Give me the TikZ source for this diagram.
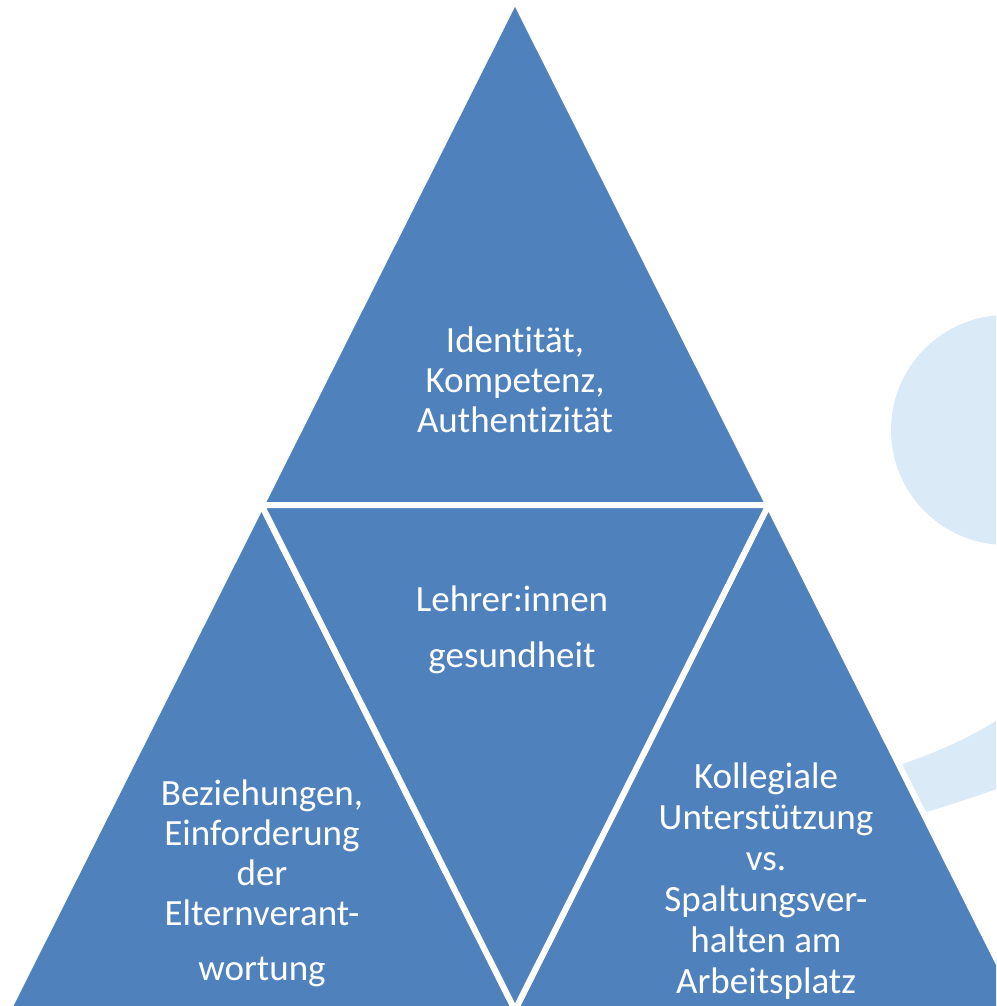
\documentclass[tikz,border=0pt]{standalone}
\usepackage{fontspec}
\setmainfont{Carlito}[Ligatures={NoCommon}]
\definecolor{triblue}{RGB}{79,129,189}
\definecolor{paleblue}{RGB}{218,234,247}
\begin{document}
\begin{tikzpicture}[x=1pt,y=-1pt,
  tri/.style={fill=triblue,draw=white,line width=6pt,line join=miter},
  lbl/.style={text=white,align=center,font=\fontsize{37}{40}\selectfont,inner sep=0pt}]
\useasboundingbox (0,0) rectangle (996,1006);
\coordinate (P) at (515,0);
\coordinate (L) at (8,1010);
\coordinate (R) at (1022,1010);
\coordinate (ML) at (261.5,505);
\coordinate (MR) at (768.5,505);
\coordinate (MB) at (515,1010);
\begin{scope}
\clip (0,0) rectangle (996,1006);
\fill[paleblue] (1006,430) circle (115);
\fill[paleblue] (860,778) .. controls (920,759) and (960,745) .. (1010,712)
  -- (1010,784) .. controls (970,799) and (940,808) .. (880,826) -- cycle;
\draw[tri] (P) -- (MR) -- (ML) -- cycle;
\draw[tri] (ML) -- (MB) -- (L) -- cycle;
\draw[tri] (MR) -- (R) -- (MB) -- cycle;
\draw[tri] (ML) -- (MR) -- (MB) -- cycle;
\end{scope}
\node[lbl] (top) at (515,380) {Identität,\\Kompetenz,\\Authentizität};
\node[lbl] (mid) at (512,630) {Lehrer:innen\\[16pt]gesundheit};
\node[lbl] (left) at (262,883) {Beziehungen,\\Einforderung\\der\\Elternverant-\\[15pt]wortung};
\node[lbl] (right) at (766,881) {Kollegiale\\[1pt]Unterstützung\\[1pt]vs.\\[1pt]Spaltungsver-\\[1pt]halten am\\[1pt]Arbeitsplatz};
\end{tikzpicture}
\end{document}
